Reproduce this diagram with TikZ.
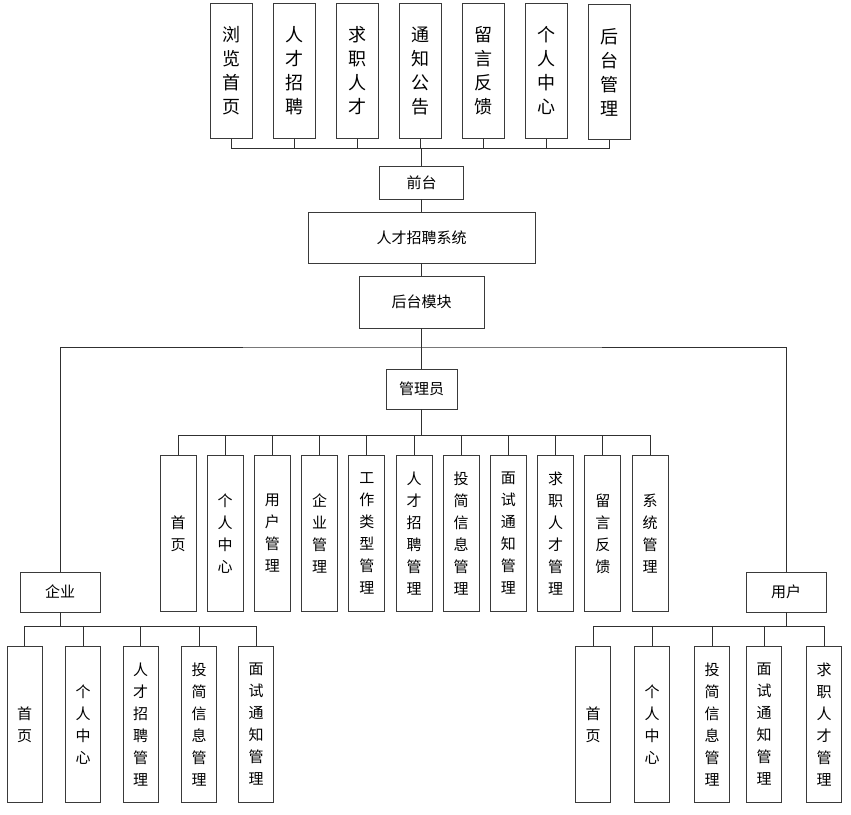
\documentclass[tikz,border=0pt]{standalone}
\usepackage{fontspec}
\setmainfont{Noto Sans CJK SC}
\usepackage{xcolor}
\usepackage{tikz}
\usetikzlibrary{positioning, calc}
\definecolor{BoxLine}{HTML}{3A3A3A}
\definecolor{LinkLine}{HTML}{303030}
\tikzset{
  module/.style={rectangle, draw=BoxLine, line width=0.9pt, text centered,
    font=\fontsize{15}{18}\selectfont, inner sep=0pt},
  tallbox/.style={rectangle, draw=BoxLine, line width=0.9pt, align=center,
    font=\fontsize{15}{22}\selectfont, inner sep=0pt, anchor=north,
    minimum width=36pt, minimum height=156pt},
  topbox/.style={tallbox, font=\fontsize{18}{24}\selectfont,
    minimum width=42pt, minimum height=135pt},
  link/.style={draw=LinkLine, line width=0.8pt},
}
\begin{document}
\begin{tikzpicture}[x=1pt, y=-1pt]
  \useasboundingbox (0,0) rectangle (851,814);

  % Front-end pages
  \node[topbox] (fe1) at (231,3) {浏\\览\\首\\页};
  \node[topbox] (fe2) at (294,3) {人\\才\\招\\聘};
  \node[topbox] (fe3) at (357,3) {求\\职\\人\\才};
  \node[topbox] (fe4) at (420,3) {通\\知\\公\\告};
  \node[topbox] (fe5) at (483,3) {留\\言\\反\\馈};
  \node[topbox] (fe6) at (546,3) {个\\人\\中\\心};
  \node[topbox] (fe7) at (609,4) {后\\台\\管\\理};

  % Main column
  \node[module, minimum width=84pt, minimum height=33pt] (front) at (421.5,182.5) {前台};
  \node[module, minimum width=227pt, minimum height=51pt] (sys) at (421.5,237.5) {人才招聘系统};
  \node[module, minimum width=125pt, minimum height=52pt] (back) at (421.5,302) {后台模块};
  \node[module, minimum width=71pt, minimum height=40pt] (adm) at (421.5,389) {管理员};

  % Admin functions
  \node[tallbox] (a1)  at (178,455)   {首\\页};
  \node[tallbox] (a2)  at (225.2,455) {个\\人\\中\\心};
  \node[tallbox] (a3)  at (272.4,455) {用\\户\\管\\理};
  \node[tallbox] (a4)  at (319.6,455) {企\\业\\管\\理};
  \node[tallbox] (a5)  at (366.8,455) {工\\作\\类\\型\\管\\理};
  \node[tallbox] (a6)  at (414,455)   {人\\才\\招\\聘\\管\\理};
  \node[tallbox] (a7)  at (461.2,455) {投\\简\\信\\息\\管\\理};
  \node[tallbox] (a8)  at (508.4,455) {面\\试\\通\\知\\管\\理};
  \node[tallbox] (a9)  at (555.6,455) {求\\职\\人\\才\\管\\理};
  \node[tallbox] (a10) at (602.8,455) {留\\言\\反\\馈};
  \node[tallbox] (a11) at (650,455)   {系\\统\\管\\理};

  % Enterprise
  \node[module, minimum width=80pt, minimum height=40pt] (ent) at (60,592) {企业};
  \node[tallbox, minimum width=35pt] (e1) at (24.5,646) {首\\页};
  \node[tallbox, minimum width=35pt] (e2) at (83,646)   {个\\人\\中\\心};
  \node[tallbox, minimum width=35pt] (e3) at (140.5,646) {人\\才\\招\\聘\\管\\理};
  \node[tallbox, minimum width=35pt] (e4) at (199,646)  {投\\简\\信\\息\\管\\理};
  \node[tallbox, minimum width=35pt] (e5) at (256,646)  {面\\试\\通\\知\\管\\理};

  % User
  \node[module, minimum width=80pt, minimum height=40pt] (usr) at (786,592) {用户};
  \node[tallbox, minimum width=35pt] (u1) at (593,646) {首\\页};
  \node[tallbox, minimum width=35pt] (u2) at (652,646) {个\\人\\中\\心};
  \node[tallbox, minimum width=35pt] (u3) at (712,646) {投\\简\\信\\息\\管\\理};
  \node[tallbox, minimum width=35pt] (u4) at (764,646) {面\\试\\通\\知\\管\\理};
  \node[tallbox, minimum width=35pt] (u5) at (824,646) {求\\职\\人\\才\\管\\理};

  % Bus points
  \coordinate (topbus) at (421.5,148);
  \coordinate (split)  at (421.5,347);
  \coordinate (admbus) at (421.5,435);
  \coordinate (entbus) at (60,626);
  \coordinate (usrbus) at (786,626);

  % Front-end tree
  \draw[link] (fe1.south) |- (topbus);
  \draw[link] (fe2.south) |- (topbus);
  \draw[link] (fe3.south) |- (topbus);
  \draw[link] (fe4.south) |- (topbus);
  \draw[link] (fe5.south) |- (topbus);
  \draw[link] (fe6.south) |- (topbus);
  \draw[link] (fe7.south) |- (topbus);
  \draw[link] (front.north) -- (topbus);

  % Main column
  \draw[link] (front) -- (sys);
  \draw[link] (sys) -- (back);
  \draw[link] (back) -- (adm);
  \draw[link] (ent.north) |- (split) -| (usr.north);

  % Admin tree
  \draw[link] (adm.south) -- (admbus);
  \draw[link] (a1.north)  |- (admbus);
  \draw[link] (a2.north)  |- (admbus);
  \draw[link] (a3.north)  |- (admbus);
  \draw[link] (a4.north)  |- (admbus);
  \draw[link] (a5.north)  |- (admbus);
  \draw[link] (a6.north)  |- (admbus);
  \draw[link] (a7.north)  |- (admbus);
  \draw[link] (a8.north)  |- (admbus);
  \draw[link] (a9.north)  |- (admbus);
  \draw[link] (a10.north) |- (admbus);
  \draw[link] (a11.north) |- (admbus);

  % Enterprise tree
  \draw[link] (ent.south) -- (entbus);
  \draw[link] (e1.north) |- (entbus);
  \draw[link] (e2.north) |- (entbus);
  \draw[link] (e3.north) |- (entbus);
  \draw[link] (e4.north) |- (entbus);
  \draw[link] (e5.north) |- (entbus);

  % User tree
  \draw[link] (usr.south) -- (usrbus);
  \draw[link] (u1.north) |- (usrbus);
  \draw[link] (u2.north) |- (usrbus);
  \draw[link] (u3.north) |- (usrbus);
  \draw[link] (u4.north) |- (usrbus);
  \draw[link] (u5.north) |- (usrbus);

\end{tikzpicture}
\end{document}
